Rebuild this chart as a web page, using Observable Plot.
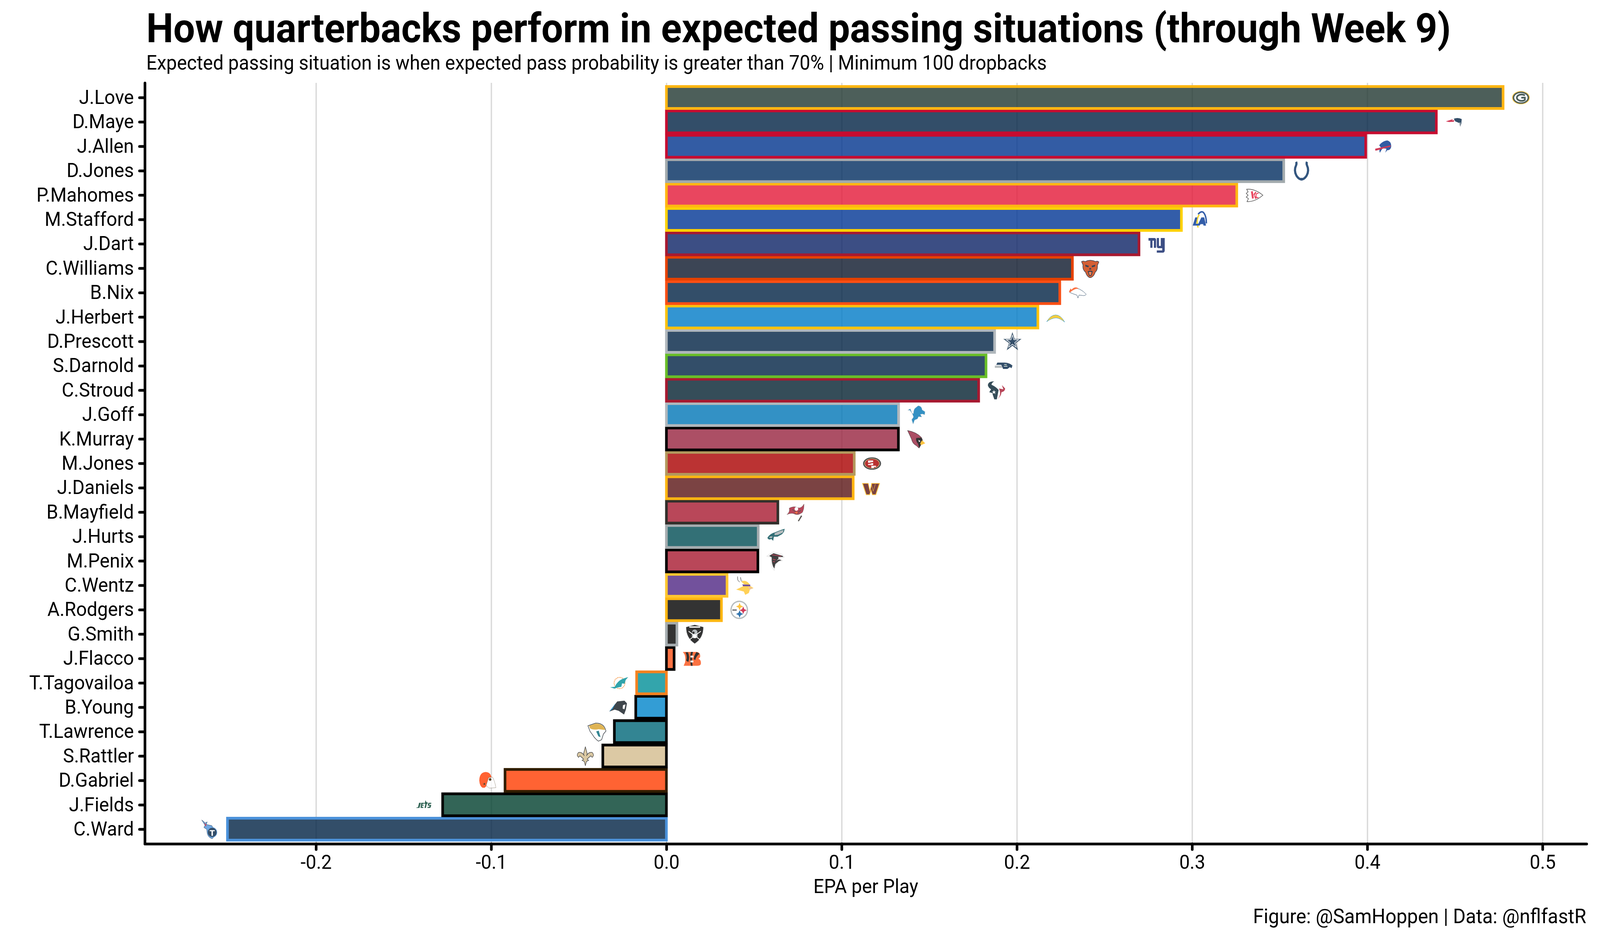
<!DOCTYPE html>
<html>
<head>
<meta charset="utf-8">
<script src="https://cdn.jsdelivr.net/npm/d3@7"></script>
<script src="https://cdn.jsdelivr.net/npm/@observablehq/plot@0.6"></script>
<style>
  html, body { margin: 0; padding: 0; background: #fff; color: #000; font-family: Roboto, sans-serif; overflow: hidden; }
  #page { width: 4266px; transform-origin: 0 0; }
  #head { position: relative; height: 190px; }
  #foot { position: relative; height: 90px; }
  h1, h2, #cap { position: absolute; margin: 0; white-space: nowrap; line-height: 1.172; display: inline-block; }
  h1 { left: 390px; top: 12.5px; font-size: 103px; font-weight: 700; transform-origin: 0 0; }
  h2 { left: 390px; top: 130.8px; font-size: 52px; font-weight: 400; transform-origin: 0 0; }
  #cap { right: 37px; top: 5px; font-size: 52px; transform-origin: 100% 0; }
  svg { display: block; }
</style>
</head>
<body>
<div id="page">
<div id="head">
  <h1 id="title">How quarterbacks perform in expected passing situations (through Week 9)</h1>
  <h2 id="sub">Expected passing situation is when expected pass probability is greater than 70% | Minimum 100 dropbacks</h2>
</div>
<div id="chart"></div>
<div id="foot"><div id="cap">Figure: @SamHoppen | Data: @nflfastR</div></div>
</div>
<script>
const players = ["J.Love","D.Maye","J.Allen","D.Jones","P.Mahomes","M.Stafford","J.Dart","C.Williams","B.Nix","J.Herbert","D.Prescott","S.Darnold","C.Stroud","J.Goff","K.Murray","M.Jones","J.Daniels","B.Mayfield","J.Hurts","M.Penix","C.Wentz","A.Rodgers","G.Smith","J.Flacco","T.Tagovailoa","B.Young","T.Lawrence","S.Rattler","D.Gabriel","J.Fields","C.Ward"];
const epa = [0.4775,0.4394,0.3991,0.3523,0.3255,0.2939,0.2697,0.2317,0.2245,0.2120,0.1873,0.1824,0.1782,0.1325,0.1324,0.1072,0.1066,0.0636,0.0524,0.0522,0.0346,0.0314,0.0060,0.0044,-0.0170,-0.0175,-0.0297,-0.0363,-0.0921,-0.1277,-0.2505];
const teams = ["GB","NE","BUF","IND","KC","LA","NYG","CHI","DEN","LAC","DAL","SEA","HOU","DET","ARI","SF","WAS","TB","PHI","ATL","MIN","PIT","LV","CIN","MIA","CAR","JAX","NO","CLE","NYJ","TEN"];
const teamFill = {GB:"#203731",NE:"#002244",BUF:"#00338D",IND:"#002C5F",KC:"#E31837",LA:"#003594",NYG:"#0B2265",CHI:"#0B162A",DEN:"#002244",LAC:"#007BC7",DAL:"#002244",SEA:"#002244",HOU:"#03202F",DET:"#0076B6",ARI:"#97233F",SF:"#AA0000",WAS:"#5A1414",TB:"#A71930",PHI:"#004C54",ATL:"#A71930",MIN:"#4F2683",PIT:"#000000",LV:"#000000",CIN:"#FB4F14",MIA:"#008E97",CAR:"#0085CA",JAX:"#006778",NO:"#D3BC8D",CLE:"#FF3C00",NYJ:"#003F2D",TEN:"#002244"};
const teamStroke = {GB:"#FFB612",NE:"#C60C30",BUF:"#C60C30",IND:"#A2AAAD",KC:"#FFB612",LA:"#FFD100",NYG:"#A71930",CHI:"#E64100",DEN:"#FB4F14",LAC:"#FFC20E",DAL:"#B0B7BC",SEA:"#69BE28",HOU:"#A71930",DET:"#B0B7BC",ARI:"#000000",SF:"#B3995D",WAS:"#FFB612",TB:"#322F2B",PHI:"#A5ACAF",ATL:"#000000",MIN:"#FFC62F",PIT:"#FFB612",LV:"#A5ACAF",CIN:"#000000",MIA:"#F58220",CAR:"#000000",JAX:"#000000",NO:"#000000",CLE:"#311D00",NYJ:"#000000",TEN:"#4B92DB"};
const xTicks = [-0.2,-0.1,0,0.1,0.2,0.3,0.4,0.5];
const xDomain = [-0.2977,0.5251];

// Hand-drawn stand-ins for the team logos (artwork only, placed by the x and y scales).
const logoArt = {
GB:`<ellipse cx="50" cy="50" rx="49" ry="35" fill="#FFB612"/><ellipse cx="50" cy="50" rx="45" ry="32" fill="#203731"/><ellipse cx="50" cy="50" rx="37" ry="25" fill="#fff"/><path d="M72 38A26 17 0 1 0 72 62V50H52" fill="none" stroke="#203731" stroke-width="9"/>`,
NE:`<path d="M48 32Q72 24 92 34L90 56L84 74L76 54L56 46Z" fill="#002244"/><path d="M4 46L44 34L38 41L52 40L48 48L22 50Z" fill="#C60C30"/><path d="M76 54L84 74L86 52Z" fill="#A5ACAF"/>`,
BUF:`<path d="M26 44Q42 22 70 18Q96 24 92 54Q86 72 70 70L60 84L66 62L46 60Q36 70 30 84Q22 66 36 56Z" fill="#00338D"/><path d="M4 62L90 44L88 52L60 58L10 72L4 72Z" fill="#C60C30"/>`,
IND:`<path d="M20 2Q24 10 20 20Q6 48 22 76Q34 94 50 96Q66 94 78 76Q94 48 80 20Q76 10 80 2" fill="none" stroke="#002C5F" stroke-width="12"/><path d="M34 92Q50 82 66 92Q50 102 34 92Z" fill="#002C5F"/>`,
KC:`<path d="M6 18Q52 14 96 50Q52 86 8 84L16 68L4 60L14 50L4 40L14 32Z" fill="#fff" stroke="#222" stroke-width="3"/><path d="M30 30L40 28L46 66L36 68ZM44 44L56 30L60 36L50 50L62 66L54 70Z" fill="#E31837"/><path d="M72 40Q58 38 58 52Q58 66 72 62" fill="none" stroke="#E31837" stroke-width="5"/>`,
LA:`<path d="M44 22Q60 2 74 12Q90 30 90 70" fill="none" stroke="#003594" stroke-width="8"/><path d="M50 24Q30 52 44 92" fill="none" stroke="#FFD100" stroke-width="8"/><path d="M28 38H40L32 72H52L50 82H14ZM62 38H78L88 82H74L72 74H58L52 82H40Z" fill="#003594"/>`,
NYG:`<path d="M4 18H36Q46 18 46 28V70H34V32H26V70H14V32H4ZM50 18H62V60H72V18H94V84Q94 96 82 96H50V84H80V72H60Q50 72 50 62Z" fill="#0B2265"/>`,
CHI:`<path d="M2 14Q12 8 22 14Q50 0 80 14Q90 8 98 16L90 34Q92 58 78 70Q72 90 56 98Q50 100 44 98Q30 90 24 70Q6 56 10 32Z" fill="#C83803" stroke="#0B162A" stroke-width="3"/><path d="M22 30L42 36L40 44L24 40ZM78 30L58 36L60 44L76 40ZM46 48H54L56 56H44ZM36 66Q50 58 64 66L56 90H44Z" fill="#0B162A"/><path d="M42 70Q50 66 58 70L53 86H47Z" fill="#FB6A30"/>`,
DEN:`<path d="M6 48Q30 18 60 30Q84 42 98 58Q90 68 76 64L58 62L52 78L46 62Q24 56 6 48Z" fill="#fff" stroke="#002244" stroke-width="2"/><path d="M2 44L12 26L16 34Q36 12 56 28Q34 26 8 48Z" fill="#FB4F14"/>`,
LAC:`<path d="M0 74Q22 38 50 38Q78 38 100 76Q72 54 52 54Q28 54 0 74Z" fill="#FFC20E" stroke="#0080C6" stroke-width="2"/>`,
DAL:`<path d="M50 0L62 36H100L69 58L81 96L50 72L19 96L31 58L0 36H38Z" fill="#002244" stroke="#869397" stroke-width="1"/><path d="M50 16L58 40H84L63 55L71 80L50 64L29 80L37 55L16 40H42Z" fill="#002244" stroke="#fff" stroke-width="3"/>`,
SEA:`<path d="M14 32H56Q84 34 98 48L92 62L84 56L70 66H46L36 44H8Z" fill="#002244"/><path d="M0 48H38L42 60H0Z" fill="#A5ACAF"/><path d="M52 42H66M50 52H70" stroke="#fff" stroke-width="3"/><circle cx="62" cy="47" r="2" fill="#69BE28"/>`,
HOU:`<path d="M38 2Q4 2 2 22Q6 38 20 44L10 60L26 64L38 98L52 98L62 48Q46 30 22 20Q26 6 38 2Z" fill="#03202F"/><path d="M54 98Q80 76 64 40L88 44L80 22L98 40Q98 56 78 60Q76 82 54 98Z" fill="#A71930"/><path d="M36 48L39 56H47L41 61L44 70L36 64L28 70L31 61L25 56H33Z" fill="#fff"/>`,
DET:`<path d="M42 16L60 2Q80 4 82 24L98 34L96 50L84 46L72 48L80 62L62 60L56 72L40 78L32 100L24 76L34 62L28 46L14 26L2 26L16 18L26 42L34 44Q34 24 42 16Z" fill="#0076B6" stroke="#B0B7BC" stroke-width="1.5"/>`,
ARI:`<path d="M2 4Q50 12 78 40Q88 56 84 66L66 98L50 84Q30 76 24 50Z" fill="#97233F" stroke="#000" stroke-width="2"/><path d="M50 44L78 42Q86 56 84 68L66 96L60 74Q46 60 50 44Z" fill="#000"/><path d="M82 56L100 72L76 82L72 72Z" fill="#FFB612"/><path d="M62 54L74 60L66 66Z" fill="#fff"/>`,
SF:`<ellipse cx="50" cy="50" rx="50" ry="33" fill="#222"/><ellipse cx="50" cy="50" rx="43" ry="27" fill="#B3995D"/><ellipse cx="50" cy="50" rx="39" ry="24" fill="#AA0000"/><path d="M28 34H56V42H38V48H56V58H28V52H46V46H28ZM42 62H72V68H60V74H46V60" fill="#fff"/>`,
WAS:`<path d="M0 24H36L44 60L52 24H100L78 88H56L50 68L44 88H22Z" fill="#FFB612"/><path d="M6 28H33L43 72L52 44L56 28H94L75 84H59L50 56L41 84H25Z" fill="#5A1414"/><path d="M52 30L62 68L74 30" fill="none" stroke="#FFB612" stroke-width="2"/>`,
TB:`<path d="M2 62Q20 46 14 28Q42 14 64 26Q82 30 96 6Q98 30 88 50Q62 70 42 58Q24 52 2 62Z" fill="#A71930" stroke="#322F2B" stroke-width="1.5"/><circle cx="54" cy="32" r="10" fill="#fff"/><path d="M30 34L64 58M80 40L44 60" stroke="#322F2B" stroke-width="3"/><ellipse cx="54" cy="52" rx="8" ry="4" fill="#FB4F14"/><path d="M80 66L62 96L68 98L86 70Z" fill="#322F2B"/>`,
PHI:`<path d="M2 56Q14 34 46 26Q76 14 98 8L94 24L84 36L58 50L38 50L34 72L24 62Q8 70 2 56Z" fill="#004C54"/><path d="M42 32Q70 18 92 14L88 28L60 40L42 42Z" fill="#A5ACAF"/><path d="M10 54Q20 44 32 50L24 58Z" fill="#A5ACAF"/>`,
ATL:`<path d="M0 24L36 2L86 14L98 30L70 30L54 48L62 46L70 38L88 48L70 52L48 70L42 100Q20 80 24 30Z" fill="#fff" stroke="#ccc" stroke-width="2"/><path d="M14 22L38 8L88 22L92 28L64 28L66 36L52 50L64 42L72 42L82 46L68 50L48 66L42 90Q26 68 28 30Z" fill="#111"/><path d="M30 16L80 24M34 40L50 44M34 52L46 54" stroke="#A71930" stroke-width="4"/>`,
MIN:`<path d="M10 2Q4 24 22 32L12 22Z" fill="#eee" stroke="#222" stroke-width="1.5"/><path d="M26 6Q22 28 40 34L30 18Z" fill="#eee" stroke="#222" stroke-width="1.5"/><path d="M30 30Q56 14 80 48L48 44Z" fill="#FFC62F"/><path d="M36 44L80 46V54L40 54Z" fill="#4F2683"/><path d="M2 72L40 54L82 54L98 64L78 72L72 90L52 100L44 82Z" fill="#FFC62F"/><path d="M68 56L94 64L74 72Z" fill="#E8B090"/>`,
PIT:`<circle cx="50" cy="50" r="49" fill="#A5ACAF"/><circle cx="50" cy="50" r="42" fill="#fff"/><path d="M52 12L58 26L72 32L58 38L52 52L46 38L32 32L46 26Z" fill="#FFB612"/><path d="M72 32L78 46L92 52L78 58L72 72L66 58L52 52L66 46Z" fill="#C60C30"/><path d="M52 52L58 66L72 72L58 78L52 92L46 78L32 72L46 66Z" fill="#00539B"/><rect x="12" y="48" width="24" height="6" fill="#333"/>`,
LV:`<path d="M50 0L98 12Q98 70 50 100Q2 70 2 12Z" fill="#000" stroke="#A5ACAF" stroke-width="1"/><path d="M36 32Q50 18 64 32L66 64Q50 78 34 64Z" fill="#A5ACAF"/><path d="M40 52Q50 48 60 52L58 70H42Z" fill="#fff"/><path d="M16 34L84 82M84 34L16 82" stroke="#fff" stroke-width="4"/><rect x="20" y="8" width="60" height="7" fill="#fff"/><circle cx="43" cy="42" r="6" fill="#000"/>`,
CIN:`<path d="M0 14H74Q96 14 96 36Q96 46 86 50Q100 56 100 74Q100 88 80 88H4L12 70Q16 50 10 30Z" fill="#FB4F14"/><path d="M14 16H28Q40 40 30 68L18 60Q26 40 14 16ZM44 14H56Q46 46 54 88H44Q36 50 44 14ZM76 14L92 24Q74 36 68 58L60 52Q62 30 76 14Z" fill="#000"/><rect x="42" y="34" width="16" height="10" fill="#fff"/><rect x="42" y="60" width="16" height="10" fill="#fff"/>`,
MIA:`<circle cx="52" cy="50" r="30" fill="#fff" stroke="#F58220" stroke-width="4" stroke-dasharray="6 3"/><path d="M0 72L26 70Q38 42 68 28L100 18L86 34L80 54L66 52L62 70L40 74L24 80Z" fill="#008E97"/>`,
CAR:`<path d="M0 72Q24 44 44 18L84 14L98 28L92 62L82 88L52 68L30 62Z" fill="#101820"/><path d="M0 72Q18 50 36 26L18 58Z" fill="#0085CA"/><path d="M76 38L90 34L84 60L74 56Z" fill="#fff"/>`,
JAX:`<path d="M0 18L42 4Q90 2 100 46L86 62L76 92L58 100Q36 84 26 66L12 48Z" fill="#fff" stroke="#101820" stroke-width="3"/><path d="M6 18L42 6Q86 6 96 40L60 36Q30 42 12 32Z" fill="#D7A22A"/><path d="M46 48L60 44L70 78L58 74Z" fill="#006778"/>`,
NO:`<path d="M50 0L60 36Q60 42 56 48Q68 26 88 30Q102 44 88 56L80 48L66 60L60 66L68 72L56 78L50 100L44 78L32 72L40 66L34 60L20 48L12 56Q-2 44 12 30Q32 26 44 48Q40 42 40 36Z" fill="#D3BC8D" stroke="#222" stroke-width="3"/>`,
CLE:`<path d="M4 50Q4 6 40 4Q68 6 72 36L66 58L34 88H22Q6 80 4 50Z" fill="#FF3C00"/><path d="M56 34L78 32Q92 60 96 88L58 90L42 76Z" fill="#fff" stroke="#311D00" stroke-width="2" stroke-dasharray="4 3"/><circle cx="64" cy="44" r="7" fill="#311D00"/><circle cx="32" cy="68" r="5" fill="#311D00"/>`,
NYJ:`<path d="M0 66L4 62H10L16 38H26L18 66ZM28 38H44L43 44H35L34 49H42L41 54H33L32 60H40L39 66H24ZM46 38H64L63 44H59L54 66H46L51 44H45ZM68 38H84L83 44H73L72 49H80Q84 49 83 54L80 62Q79 66 75 66H62L63 60H72L74 54H66Q63 54 64 50Z" fill="#003F2D"/><path d="M48 38L52 24L56 34L66 38Z" fill="#003F2D"/>`,
TEN:`<path d="M4 0L24 16L34 10L30 24L60 30L68 44Q84 62 74 88L62 100Q38 92 34 70L32 50L16 40L22 28L4 0Z" fill="#4B92DB" stroke="#002244" stroke-width="2"/><path d="M18 14L30 26L26 36Z" fill="#C8102E"/><circle cx="62" cy="66" r="26" fill="#002244" stroke="#4B92DB" stroke-width="3"/><path d="M48 54H76V60H66V84H58V60H48Z" fill="#fff"/>`
};
const logoUri = t => "data:image/svg+xml;utf8," + encodeURIComponent(
  `<svg xmlns="http://www.w3.org/2000/svg" viewBox="-2 -2 104 104"><g opacity="0.8">${logoArt[t]}</g></svg>`);

const rows = players.map((player, i) => ({
  player, epa: epa[i], team: teams[i],
  fill: teamFill[teams[i]], stroke: teamStroke[teams[i]], logo: logoUri(teams[i])
}));
const drawOrder = rows.slice().reverse();

const chart = Plot.plot({
  width: 4266,
  height: 2120,
  marginTop: 22,
  marginBottom: 151,
  marginLeft: 386,
  marginRight: 36,
  style: {fontFamily: "Roboto, sans-serif", background: "#fff", color: "#000", overflow: "visible", maxWidth: "none"},
  x: {domain: xDomain, label: null},
  y: {domain: players, paddingInner: 0.1, paddingOuter: 0.15, round: false, label: null},
  marks: [
    Plot.gridX(xTicks, {stroke: "#d9d9d9", strokeOpacity: 1, strokeWidth: 3.5}),
    Plot.barX(drawOrder, {x1: 0, x2: "epa", y: "player", fill: "fill", fillOpacity: 0.8, stroke: "stroke", strokeWidth: 7}),
    Plot.image(rows.filter(d => d.epa >= 0), {x: "epa", y: "player", src: "logo", width: 50, height: 50, dx: 47}),
    Plot.image(rows.filter(d => d.epa < 0), {x: "epa", y: "player", src: "logo", width: 50, height: 50, dx: -47}),
    Plot.frame({anchor: "left", stroke: "#000", strokeWidth: 7, strokeLinecap: "round"}),
    Plot.frame({anchor: "bottom", stroke: "#000", strokeWidth: 7, strokeLinecap: "round"}),
    Plot.axisY(players, {label: null, tickSize: 14, tickPadding: 15.5, fontSize: 50, fill: "#000", stroke: "#000", strokeWidth: 7, strokeLinecap: "round", strokeOpacity: 1}),
    Plot.axisX(xTicks, {label: null, tickSize: 14.5, tickPadding: 13, fontSize: 50, fill: "#000", stroke: "#000", strokeWidth: 7, strokeLinecap: "round", strokeOpacity: 1, tickFormat: d => d.toFixed(1)}),
    Plot.axisX([], {tickSize: 0, label: "EPA per Play", labelAnchor: "center", labelArrow: "none", labelOffset: 125, fontSize: 50, fill: "#000"})
  ]
});
document.getElementById("chart").append(chart);

// The reference's face is narrower than the installed one: fit the three lines to their measured widths.
const fit = (id, target) => { const el = document.getElementById(id); el.style.transform = `scaleX(${target / el.offsetWidth})`; };
const fitAll = () => { fit("title", 3478); fit("sub", 2401); fit("cap", 888); };
fitAll();
if (document.fonts && document.fonts.ready) document.fonts.ready.then(fitAll);

// The browser window can be narrower than the 4266 design width: squeeze the whole page to fill it.
document.getElementById("page").style.transform = `scaleX(${Math.min(1, window.innerWidth / 4266)})`;
</script>
</body>
</html>
